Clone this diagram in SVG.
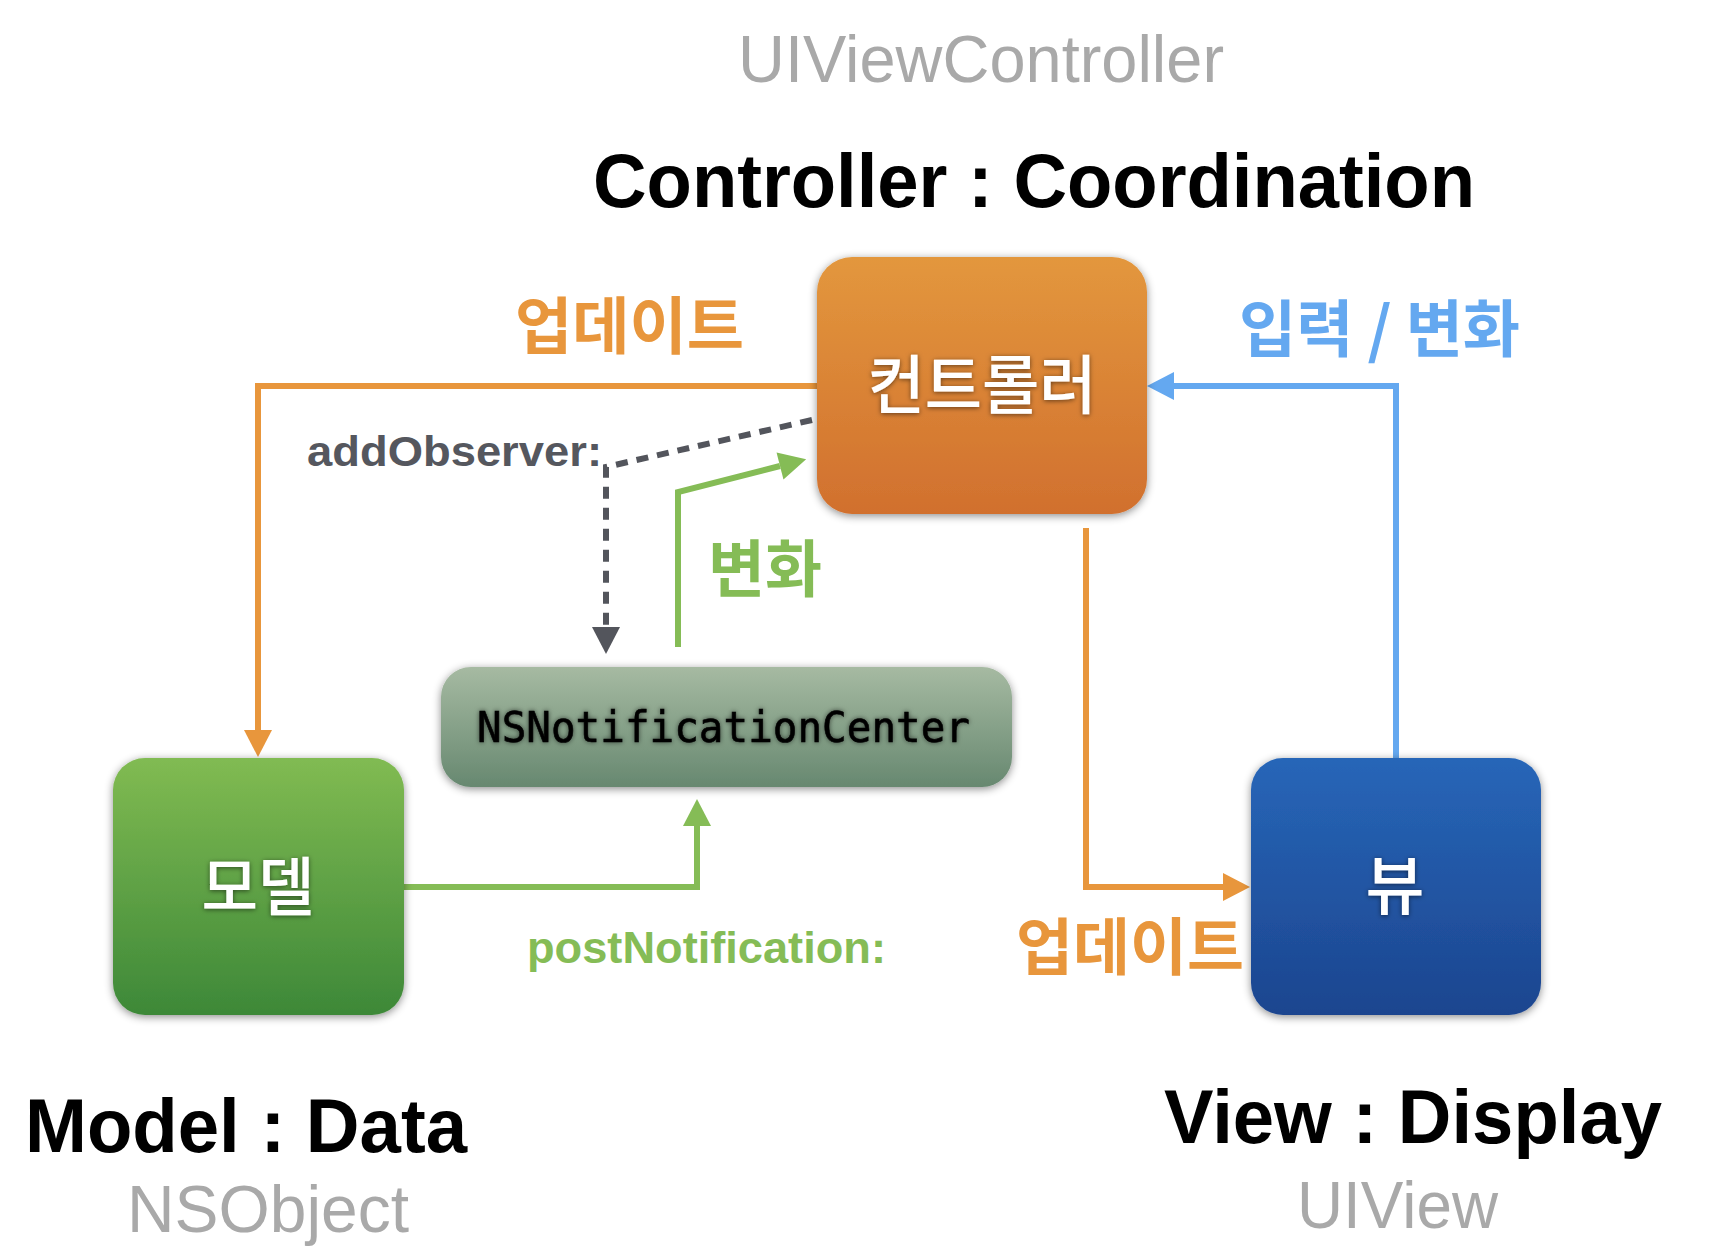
<svg xmlns="http://www.w3.org/2000/svg" width="1712" height="1260" viewBox="0 0 1712 1260">
<style>
.title{font-family:"Liberation Sans",Arial,sans-serif;font-weight:bold;font-size:76px;fill:#000}
.sub{font-family:"Liberation Sans",Arial,sans-serif;font-size:66px;fill:#a9a9a9}
.ko{font-family:"Noto Sans CJK KR",sans-serif;font-weight:bold;font-size:62px}
.node{font-family:"Noto Sans CJK KR",sans-serif;font-weight:500;font-size:64px;fill:#fff;text-anchor:middle;filter:url(#tsh)}
.lbl{font-family:"Liberation Sans",Arial,sans-serif;font-weight:bold}
.conn{fill:none;stroke-width:6}
</style>
<defs>
<linearGradient id="gOrange" x1="0" y1="0" x2="0" y2="1"><stop offset="0" stop-color="#e3973d"/><stop offset="1" stop-color="#d1702e"/></linearGradient>
<linearGradient id="gGreen" x1="0" y1="0" x2="0" y2="1"><stop offset="0" stop-color="#81bb52"/><stop offset="1" stop-color="#3d8838"/></linearGradient>
<linearGradient id="gBlue" x1="0" y1="0" x2="0" y2="1"><stop offset="0" stop-color="#2766b8"/><stop offset="1" stop-color="#1c458f"/></linearGradient>
<linearGradient id="gGray" x1="0" y1="0" x2="0" y2="1"><stop offset="0" stop-color="#a6baa2"/><stop offset="1" stop-color="#678870"/></linearGradient>
<filter id="sh" x="-20%" y="-20%" width="140%" height="140%"><feDropShadow dx="0" dy="2" stdDeviation="4" flood-color="#000" flood-opacity="0.45"/></filter>
<filter id="tsh" x="-20%" y="-30%" width="140%" height="160%"><feDropShadow dx="0" dy="1" stdDeviation="2.5" flood-color="#000" flood-opacity="0.55"/></filter>
<filter id="tsh2" x="-10%" y="-40%" width="120%" height="180%"><feDropShadow dx="0" dy="0" stdDeviation="2.5" flood-color="#000" flood-opacity="0.6"/></filter>
<marker id="aOrange" markerUnits="userSpaceOnUse" markerWidth="30" markerHeight="30" refX="0" refY="14" orient="auto" overflow="visible"><path d="M0,0 L27,14 L0,28 Z" fill="#e8963c"/></marker>
<marker id="aBlue" markerUnits="userSpaceOnUse" markerWidth="30" markerHeight="30" refX="0" refY="14" orient="auto" overflow="visible"><path d="M0,0 L27,14 L0,28 Z" fill="#64a8f0"/></marker>
<marker id="aGreen" markerUnits="userSpaceOnUse" markerWidth="30" markerHeight="30" refX="0" refY="14" orient="auto" overflow="visible"><path d="M0,0 L27,14 L0,28 Z" fill="#85bc56"/></marker>
<marker id="aDark" markerUnits="userSpaceOnUse" markerWidth="30" markerHeight="30" refX="0" refY="14" orient="auto" overflow="visible"><path d="M0,0 L27,14 L0,28 Z" fill="#53555c"/></marker>
</defs>
<rect width="1712" height="1260" fill="#fff"/>

<text class="sub" x="738" y="82" textLength="486" lengthAdjust="spacingAndGlyphs">UIViewController</text>
<text class="title" x="593" y="207" textLength="882" lengthAdjust="spacingAndGlyphs">Controller : Coordination</text>
<text class="title" x="25" y="1152" textLength="442" lengthAdjust="spacingAndGlyphs">Model : Data</text>
<text class="sub" x="127" y="1232" textLength="282" lengthAdjust="spacingAndGlyphs">NSObject</text>
<text class="title" x="1164" y="1143" textLength="498" lengthAdjust="spacingAndGlyphs">View : Display</text>
<text class="sub" x="1297" y="1228" textLength="201" lengthAdjust="spacingAndGlyphs">UIView</text>

<g id="connectors">
<path class="conn" d="M817,386 H258 V730" stroke="#e8963c" marker-end="url(#aOrange)"/>
<path class="conn" d="M1086,528 V887 H1223" stroke="#e8963c" marker-end="url(#aOrange)"/>
<path class="conn" d="M1396,758 V386 H1174" stroke="#64a8f0" marker-end="url(#aBlue)"/>
<path class="conn" d="M404,887 H697 V826" stroke="#85bc56" stroke-width="5.5" marker-end="url(#aGreen)"/>
<path class="conn" d="M678,647 V492 L780,466" stroke="#85bc56" stroke-width="5.5" marker-end="url(#aGreen)"/>
<path class="conn" d="M812,420 L606,467 V627" stroke="#53555c" stroke-width="6.5" stroke-dasharray="12 9" marker-end="url(#aDark)"/>
<text class="ko" x="515" y="349" fill="#e8963c" textLength="229" lengthAdjust="spacingAndGlyphs">업데이트</text>
<text class="ko" x="1016" y="970" fill="#e8963c" textLength="228" lengthAdjust="spacingAndGlyphs">업데이트</text>
<text class="ko" x="1239" y="352" fill="#64a8f0" textLength="281" lengthAdjust="spacingAndGlyphs">입력 / 변화</text>
<text class="ko" x="708" y="592" fill="#85bc56" font-size="58" textLength="114" lengthAdjust="spacingAndGlyphs">변화</text>
<text class="lbl" x="307" y="466" font-size="42" fill="#55575e" textLength="295" lengthAdjust="spacingAndGlyphs">addObserver:</text>
<text class="lbl" x="527" y="963" font-size="44" fill="#85bc56" textLength="359" lengthAdjust="spacingAndGlyphs">postNotification:</text>
</g>

<g id="controller">
<rect x="817" y="257" width="330" height="257" rx="35" fill="url(#gOrange)" filter="url(#sh)"/>
<text class="node" x="982" y="408" textLength="229" lengthAdjust="spacingAndGlyphs">컨트롤러</text>
</g>
<g id="model">
<rect x="113" y="758" width="291" height="257" rx="32" fill="url(#gGreen)" filter="url(#sh)"/>
<text class="node" x="258" y="910" textLength="113" lengthAdjust="spacingAndGlyphs">모델</text>
</g>
<g id="view">
<rect x="1251" y="758" width="290" height="257" rx="32" fill="url(#gBlue)" filter="url(#sh)"/>
<text class="node" x="1395" y="909">뷰</text>
</g>
<g id="notificationcenter">
<rect x="441" y="667" width="571" height="120" rx="30" fill="url(#gGray)" filter="url(#sh)"/>
<text x="477" y="742" font-family="DejaVu Sans Mono,monospace" font-size="42" fill="#000" stroke="#000" stroke-width="0.6" textLength="493" lengthAdjust="spacingAndGlyphs" filter="url(#tsh2)">NSNotificationCenter</text>
</g>
</svg>
